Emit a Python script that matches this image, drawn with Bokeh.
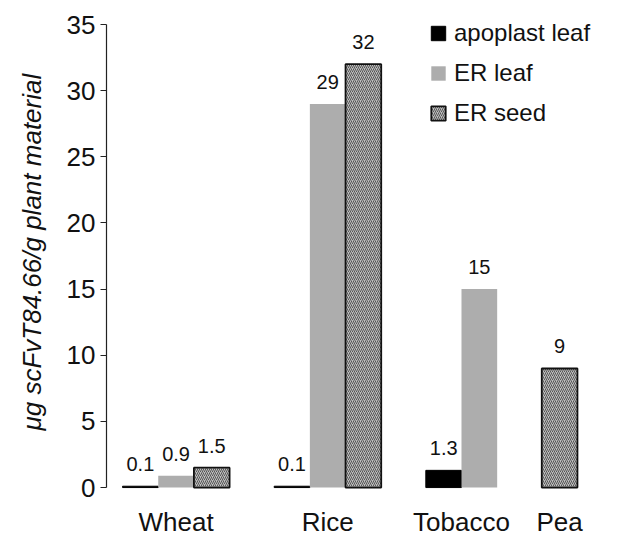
from bokeh.plotting import figure
from bokeh.models import FactorRange, ColumnDataSource, Range1d, FixedTicker, Legend, LegendItem, Title
from bokeh.core.properties import value
from bokeh.embed import file_html
from bokeh.resources import INLINE

# ---- data ----
crops = ["Wheat", "Rice", "Tobacco", "Pea"]
series_names = ["apoplast leaf", "ER leaf", "ER seed"]
apoplast_crops = ["Wheat", "Rice", "Tobacco"]
apoplast_values = [0.1, 0.1, 1.3]
er_leaf_crops = ["Wheat", "Rice", "Tobacco"]
er_leaf_values = [0.9, 29, 15]
er_seed_crops = ["Wheat", "Rice", "Pea"]
er_seed_values = [1.5, 32, 9]
y_ticks = [0, 5, 10, 15, 20, 25, 30, 35]
y_label = "\u03bcg scFvT84.66/g plant material"

FONT = "Liberation Sans"

series_data = {
    "apoplast leaf": (apoplast_crops, apoplast_values),
    "ER leaf": (er_leaf_crops, er_leaf_values),
    "ER seed": (er_seed_crops, er_seed_values),
}

factors = []
for c in crops:
    for s in series_names:
        if c in series_data[s][0]:
            factors.append((c, s))

x_range = FactorRange(factors=factors, factor_padding=0.0, group_padding=1.25,
                      range_padding=0.45, range_padding_units="absolute")

p = figure(width=621, height=536, x_range=x_range, y_range=Range1d(-3.70, 36.06),
           output_backend="svg", toolbar_location=None,
           min_border_left=106, min_border_right=28, min_border_top=10, min_border_bottom=0)

p.outline_line_color = None
p.xgrid.grid_line_color = None
p.ygrid.grid_line_color = None
p.background_fill_color = "white"
p.border_fill_color = "white"
p.xaxis.visible = False

styles = {
    "apoplast leaf": dict(fill_color="black", line_color="black", line_width=1),
    "ER leaf": dict(fill_color="#adadad", line_color=None),
    "ER seed": dict(fill_color="#bdbdbd", line_color="#111111", line_width=1.8,
                    hatch_pattern="/", hatch_color="#4a4a4a", hatch_scale=4, hatch_weight=0.9),
}

items = []
lx, ly, lt = [], [], []
for s in series_names:
    cs, vs = series_data[s]
    src = ColumnDataSource(dict(x=[(c, s) for c in cs], top=vs))
    r = p.vbar(x="x", top="top", bottom=0, width=1.0, source=src, **styles[s])
    items.append(LegendItem(label=s, renderers=[r]))
    for c, v in zip(cs, vs):
        lx.append((c, s)); ly.append(v); lt.append(f"{v:g}")

# value labels above bars
lab_src = ColumnDataSource(dict(x=lx, y=ly, text=lt))
p.text(x="x", y="y", text="text", source=lab_src, text_align="center",
       text_baseline="alphabetic", y_offset=-22, text_font=value(FONT),
       text_font_size="20px", text_color="#111111")

# category labels at the group centres
cat_src = ColumnDataSource(dict(x=crops, y=[0] * len(crops), text=crops))
p.text(x="x", y="y", text="text", source=cat_src, text_align="center",
       text_baseline="alphabetic", y_offset=34, text_font=value(FONT),
       text_font_size="26px", text_color="#111111")

# y axis
ya = p.yaxis[0]
ya.ticker = FixedTicker(ticks=y_ticks)
ya.bounds = (0, 35)
ya.axis_line_color = "#222222"
ya.axis_line_width = 1.2
ya.major_tick_in = 0
ya.major_tick_out = 6
ya.major_tick_line_color = "#222222"
ya.minor_tick_line_color = None
ya.major_label_text_font = FONT
ya.major_label_text_font_size = "26px"
ya.major_label_text_color = "#111111"
ya.major_label_standoff = 5

ylab = Title(text=y_label, align="left", vertical_align="top", offset=106, standoff=30,
             text_font=FONT, text_font_style="italic", text_font_size="26px",
             text_color="#111111")
p.add_layout(ylab, "left")

legend = Legend(items=items, location=(323, 409), border_line_color=None,
                background_fill_alpha=0, padding=0, margin=0, spacing=12,
                glyph_width=18, glyph_height=18, label_standoff=7,
                label_text_font=FONT, label_text_font_size="24px",
                label_text_color="#111111")
p.add_layout(legend, "center")

open("out.html", "w").write(file_html(p, INLINE))
